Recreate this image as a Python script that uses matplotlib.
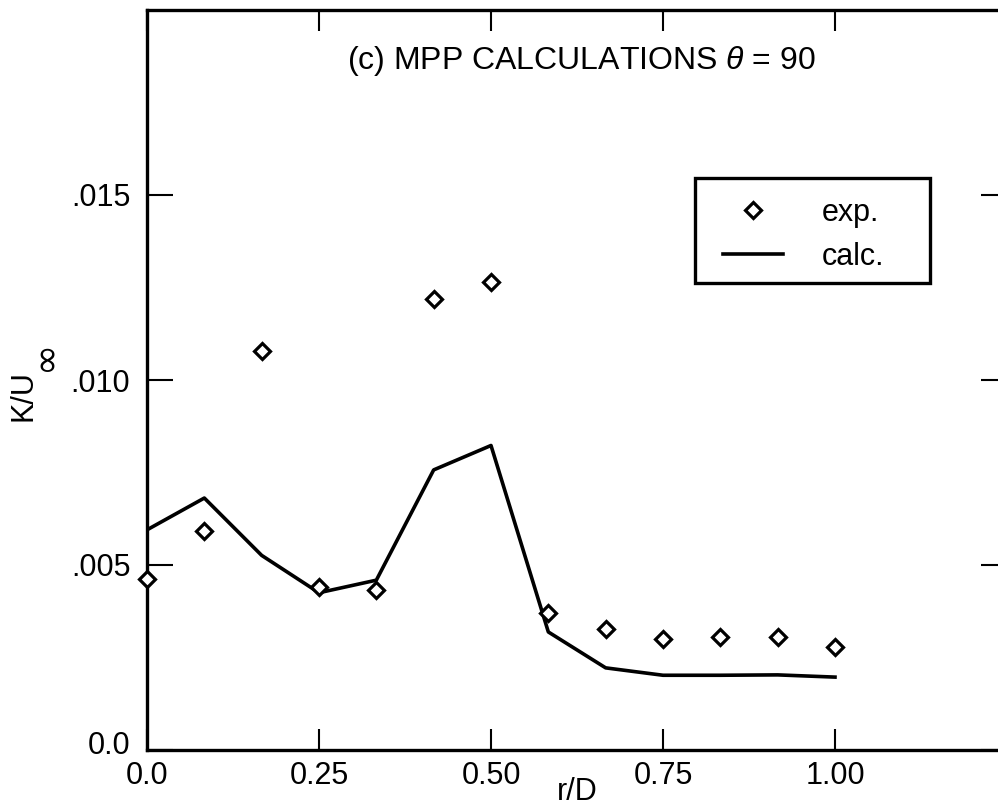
import numpy as np
import matplotlib
matplotlib.use("Agg")
import matplotlib.pyplot as plt
from matplotlib.patches import Rectangle
from matplotlib.transforms import ScaledTranslation

# data (r/D = n/12)
r_exp = [0.0, 1/12, 2/12, 3/12, 4/12, 5/12, 6/12, 7/12, 8/12, 9/12, 10/12, 11/12, 1.0]
k_exp = [0.00463, 0.00592, 0.01079, 0.00441, 0.00432, 0.01219, 0.01264,
         0.00369, 0.00328, 0.00301, 0.00306, 0.00306, 0.00279]

r_calc = [0.0, 1/12, 2/12, 3/12, 4/12, 5/12, 6/12, 7/12, 8/12, 9/12, 10/12, 11/12, 1.0]
k_calc = [0.00595, 0.00681, 0.00526, 0.00425, 0.00459, 0.00757, 0.00823,
          0.00319, 0.00222, 0.00202, 0.00202, 0.00203, 0.00197]

x_ticks = [0.0, 0.25, 0.50, 0.75, 1.00]
x_ticklabels = ["0.0", "0.25", "0.50", "0.75", "1.00"]
y_ticks = [0.0, 0.005, 0.010, 0.015]
y_ticklabels = ["0.0", ".005", ".010", ".015"]

plt.rcParams['font.family'] = ['Liberation Sans', 'DejaVu Sans']
plt.rcParams['mathtext.fontset'] = 'custom'
plt.rcParams['mathtext.rm'] = 'Liberation Sans'
plt.rcParams['mathtext.it'] = 'Liberation Sans:italic'

FS = 22

W, H = 998, 809
fig = plt.figure(figsize=(W / 100, H / 100), dpi=100)
# axes spans x 147..1007 px (right spine falls just off the picture), y 10..750 px
ax = fig.add_axes([147 / W, 1 - 750 / H, 860 / W, 740 / H])

ax.plot(r_exp, k_exp, linestyle='none', marker='D', markersize=8.5,
        markerfacecolor='white', markeredgecolor='black', markeredgewidth=2.3,
        label='exp.', clip_on=False, zorder=3)
ax.plot(r_calc, k_calc, color='black', linewidth=2.6, label='calc.', zorder=2)

ax.set_xlim(0, 1.25)
ax.set_ylim(0, 0.020)
ax.set_xticks(x_ticks)
ax.set_xticklabels(x_ticklabels)
ax.set_yticks(y_ticks)
ax.set_yticklabels(y_ticklabels)

ax.tick_params(direction='in', width=1.5, labelsize=FS,
               top=True, right=True, colors='black')
ax.tick_params(axis='x', length=15, pad=8)
ax.tick_params(axis='y', length=19, pad=12)
for sp in ax.spines.values():
    sp.set_linewidth(2.4)

# the "0.0" on the y axis sits a bit above its tick
lbl = ax.get_yticklabels()[0]
lbl.set_transform(lbl.get_transform() + ScaledTranslation(0, 8 / 100, fig.dpi_scale_trans))

ax.set_xlabel('r/D', fontsize=FS, labelpad=-10)

# y label: K/U with a large subscript infinity
fig.text(23 / W, 1 - 396 / H, 'K/U', rotation=90, ha='center', va='center', fontsize=FS)
fig.text(45 / W, 1 - 355 / H, '\u221e', rotation=90, ha='center', va='center',
         fontsize=27, family='DejaVu Sans')

ax.text(0.505, 0.931, r'(c) MPP CALCULATIONS $\theta$ = 90', transform=ax.transAxes,
        ha='center', va='center', fontsize=23)

# legend entries without frame, then a plain box drawn around them
leg = ax.legend(loc='upper left', bbox_to_anchor=((723 - 147) / 860, (750 - 198) / 740),
                borderaxespad=0, borderpad=0, fontsize=FS, frameon=False,
                handlelength=1.96, handletextpad=1.28, labelspacing=0.45, numpoints=1)
fig.add_artist(Rectangle((695 / W, 1 - 283 / H), 235 / W, 105 / H,
                         transform=fig.transFigure, fill=False,
                         edgecolor='black', linewidth=2.4))

fig.savefig('out.png', dpi=100)
